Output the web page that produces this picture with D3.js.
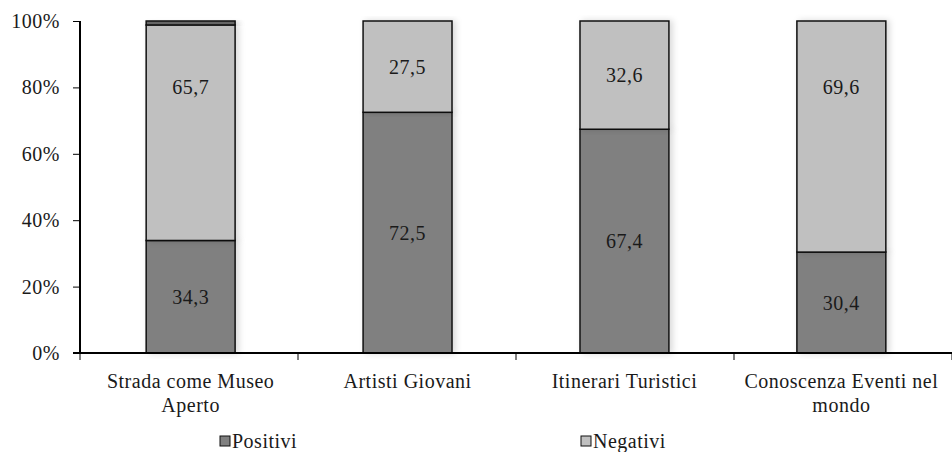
<!DOCTYPE html>
<html><head><meta charset="utf-8">
<script src="https://cdn.jsdelivr.net/npm/d3@7"></script>
<style>body{margin:0;background:#fff}svg{display:block}svg text{font-family:"Liberation Serif",serif !important;fill:#1a1a1a;letter-spacing:0.5px}</style>
</head><body>
<svg id="c" width="952" height="452"></svg>
<script>
const categories = [["Strada come Museo","Aperto"],["Artisti Giovani"],["Itinerari Turistici"],["Conoscenza Eventi nel","mondo"]];
const positivi = [34.3, 72.5, 67.4, 30.4];
const negativi = [65.7, 27.5, 32.6, 69.6];
const altro = [1.2, 0, 0, 0];
const yTicks = [0, 0.2, 0.4, 0.6, 0.8, 1.0];
const seriesNames = ["Positivi", "Negativi", "Altro"];
const colors = ["#808080", "#c0c0c0", "#666666"];

const svg = d3.select("#c");
const fs = 20;
const x0 = 80, x1 = 952, yTop = 21, yBot = 353;
const data = categories.map((c, i) => ({key: i, Positivi: positivi[i], Negativi: negativi[i], Altro: altro[i]}));
const stack = d3.stack().keys(seriesNames).offset(d3.stackOffsetExpand);
const layers = stack(data);

const x = d3.scaleBand().domain(categories.map((c, i) => i)).range([x0, x1]).paddingInner(0.59).paddingOuter(0.305);
const y = d3.scaleLinear().domain([0, 1]).range([yBot, yTop]);

const defs = svg.append("defs");
const f = defs.append("filter").attr("id", "sh").attr("x", "-20%").attr("y", "-5%").attr("width", "150%").attr("height", "110%");
f.append("feDropShadow").attr("dx", 3).attr("dy", 0).attr("stdDeviation", 3).attr("flood-color", "#000").attr("flood-opacity", 0.15);

const g = svg.append("g");
layers.forEach((layer, li) => {
  g.append("g").selectAll("rect").data(layer).join("rect")
    .attr("x", (d, i) => x(i))
    .attr("width", x.bandwidth())
    .attr("y", d => y(d[1]))
    .attr("height", d => Math.max(0, y(d[0]) - y(d[1])))
    .attr("fill", colors[li])
    .attr("stroke", d => (d[1] - d[0]) > 0 ? "#111" : "none")
    .attr("stroke-width", 1.5)
    .attr("filter", "url(#sh)");
});

// value labels (large upper segments have their label raised, as in the source)
const fmt = v => v.toFixed(1).replace(".", ",");
const labelCap = 0.8;
[0, 1].forEach(li => {
  const vals = li === 0 ? positivi : negativi;
  g.append("g").selectAll("text").data(layers[li]).join("text")
    .attr("x", (d, i) => x(i) + x.bandwidth() / 2)
    .attr("y", d => { const m = (d[0] + d[1]) / 2; return y(li === 1 ? Math.max(m, labelCap) : m); })
    .attr("dy", "0.35em")
    .attr("text-anchor", "middle")
    .style("font-size", fs + "px")
    .text((d, i) => fmt(vals[i]));
});

// y axis
const ya = svg.append("g").attr("transform", `translate(${x0},0)`)
  .call(d3.axisLeft(y).tickValues(yTicks).tickFormat(d3.format(".0%")).tickSize(7).tickPadding(13));
ya.select(".domain").attr("stroke", "#000").attr("stroke-width", 2).attr("d", `M0,${yTop}V${yBot}`);
ya.selectAll(".tick line").attr("stroke", "#000").attr("stroke-width", 1);
ya.selectAll("text").style("font-size", fs + "px");

// x axis
const step = (x1 - x0) / categories.length;
const xa = svg.append("g").attr("transform", `translate(0,${yBot})`);
xa.append("line").attr("x1", x0 - 7).attr("x2", x1).attr("stroke", "#000").attr("stroke-width", 2);
d3.range(categories.length + 1).forEach(i => {
  xa.append("line").attr("x1", x0 + i * step).attr("x2", x0 + i * step).attr("y1", 0).attr("y2", 7).attr("stroke", "#000");
});
categories.forEach((c, i) => {
  const cx = x(i) + x.bandwidth() / 2;
  const t = xa.append("text").attr("text-anchor", "middle").style("font-size", fs + "px").attr("x", cx).attr("y", 35);
  c.forEach((line, k) => t.append("tspan").attr("x", cx).attr("dy", k === 0 ? 0 : 24).text(line));
});

// legend
const legendX = [220, 581];
["Positivi", "Negativi"].forEach((n, i) => {
  const lg = svg.append("g").attr("transform", `translate(${legendX[i]},441)`);
  lg.append("rect").attr("x", 0).attr("y", -5).attr("width", 10).attr("height", 10).attr("fill", colors[i]).attr("stroke", "#111").attr("stroke-width", 1);
  lg.append("text").attr("x", 12).attr("y", 0).attr("dy", "0.35em").style("font-size", fs + "px").text(n);
});
</script></body></html>
